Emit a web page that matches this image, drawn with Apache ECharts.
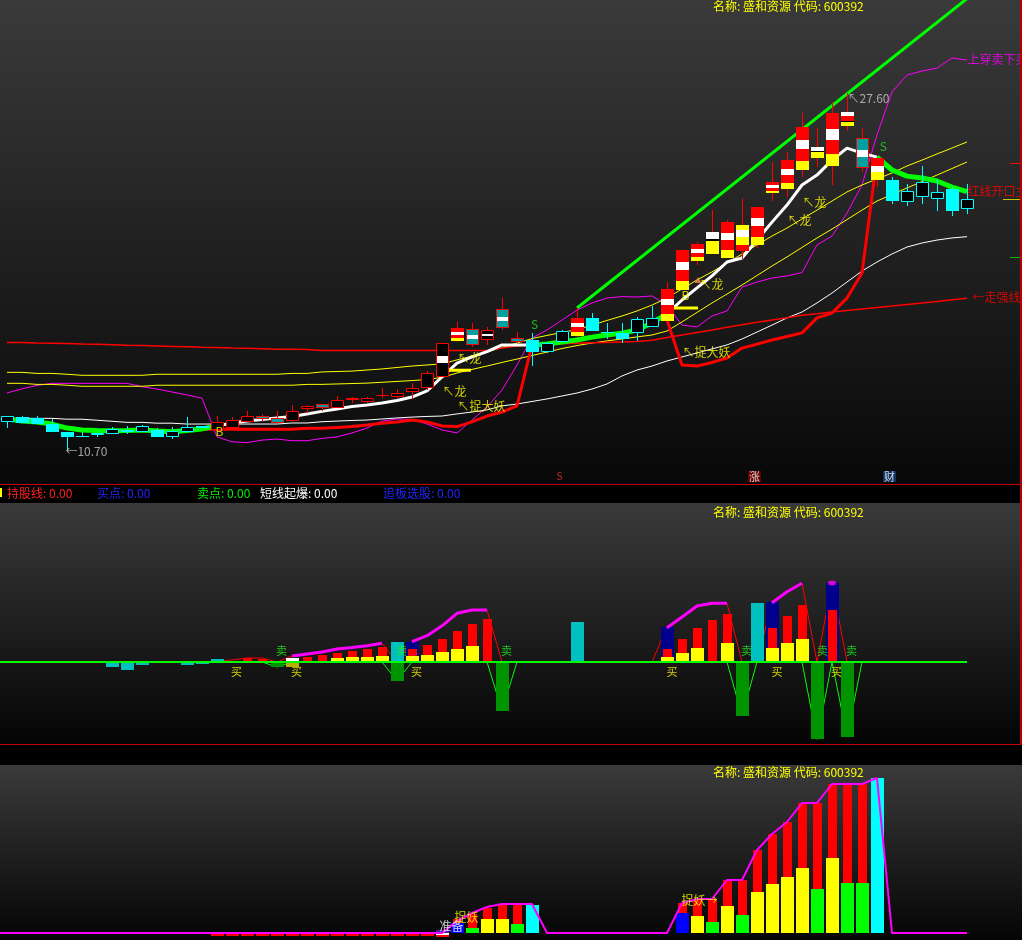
<!DOCTYPE html>
<html><head><meta charset="utf-8">
<script src="https://cdn.jsdelivr.net/npm/echarts@6/dist/echarts.min.js"></script>
<style>html,body{margin:0;padding:0;background:#000;}#c{width:1022px;height:940px;}</style>
</head><body><div id="c"></div>
<script>
// ---------------- DATA ----------------
const stockTitle = '名称: 盛和资源 代码: 600392';
const infoRow = [['持股线: 0.00','red'],['买点: 0.00','blue'],['卖点: 0.00','green'],['短线起爆: 0.00','white'],['追板选股: 0.00','blue']];

// candles (index = trading day 0..64)
const opens = [12.01,12.26,12.20,11.95,11.55,11.38,11.40,11.44,11.66,11.54,
 11.63,11.30,11.54,11.85,11.65,11.73,12.04,12.30,12.23,12.09,
 12.66,12.87,12.68,13.07,12.99,13.26,13.23,13.46,13.62,14.15,
 15.87,16.43,15.91,17.38,15.99,15.91,15.36,15.80,16.10,16.97,
 16.31,16.23,16.23,16.54,16.83,18.28,19.66,20.00,19.81,20.15,
 20.43,22.89,23.08,23.97,24.54,24.17,26.07,25.47,23.50,23.50,
 22.47,22.70,22.58,23.06,22.11];
const closes = [12.30,11.98,11.95,11.57,11.33,11.30,11.51,11.68,11.54,11.82,
 11.33,11.59,11.79,11.73,12.04,12.12,12.30,12.17,11.98,12.55,
 12.79,12.68,13.07,13.15,13.15,13.31,13.39,13.62,14.34,15.76,
 16.50,15.68,16.39,16.47,15.83,15.36,15.76,16.34,16.97,16.34,
 16.23,15.95,16.89,16.94,18.33,20.18,20.46,21.02,21.52,21.36,
 22.23,23.42,24.44,26.02,25.07,26.66,26.73,24.05,24.52,22.52,
 22.96,23.39,22.93,22.04,22.60];
const highs = [12.30,12.31,12.31,12.18,11.55,11.57,11.51,11.79,11.84,11.88,
 11.74,11.79,12.26,11.85,12.31,12.28,12.55,12.42,12.55,12.83,
 12.82,12.89,13.26,13.23,13.23,13.64,13.59,13.88,14.44,15.76,
 16.78,16.70,16.54,17.89,16.29,16.26,15.83,16.40,17.44,17.18,
 16.73,16.73,16.99,17.54,18.68,20.18,20.54,22.07,21.60,22.63,
 22.23,24.34,24.84,26.66,25.95,27.21,27.60,25.95,24.52,23.65,
 23.31,24.16,23.50,23.18,23.29];
const lows = [11.76,11.98,11.95,11.57,10.70,11.30,11.30,11.44,11.46,11.54,
 11.33,11.24,11.54,11.73,11.60,11.73,12.04,12.04,11.98,12.09,
 12.47,12.55,12.68,12.94,12.94,13.16,13.16,13.12,13.54,14.15,
 15.82,15.60,15.68,16.39,15.76,14.68,15.28,15.80,16.05,16.34,
 15.95,15.76,15.88,16.54,16.73,18.28,19.47,20.00,19.81,19.74,
 20.26,22.52,22.70,23.62,24.13,23.25,25.83,23.89,23.18,22.36,
 22.26,22.36,22.04,21.79,21.88];
const candleKind = ['cu','cd','cd','cd','cd','cd','cu','cu','cd','cu',
 'cd','cu','cu','cd','ru','ru','ru','rt','rt','ru',
 'ru','rt','ru','ru','ru','ru','ru','ru','ru','rw',
 'st','rtw','rw','rtw','rt','cd','cu','cu','st','cd',
 'cd','cd','cu','cu','st','st','st','wy','st','yw',
 'st','st','st','st','wy','st','wr','rtw','rwy','cd',
 'cu','cu','cu','cd','cu'];

// main panel lines
const lineStrong = [15.80,15.79,15.77,15.76,15.75,15.72,15.71,15.69,15.66,15.65,
 15.63,15.61,15.59,15.57,15.56,15.53,15.52,15.50,15.47,15.47,
 15.46,15.42,15.41,15.41,15.41,15.41,15.41,15.41,15.41,15.41,
 15.41,15.41,15.42,15.53,15.63,15.68,15.71,15.73,15.76,15.78,
 15.80,15.82,15.84,15.90,16.03,16.15,16.27,16.39,16.52,16.64,
 16.75,16.86,16.97,17.09,17.16,17.24,17.31,17.38,17.45,17.52,
 17.60,17.67,17.74,17.82,17.89];
const maFast = [14.38,14.38,14.33,14.33,14.29,14.24,14.24,14.24,14.24,14.24,
 14.29,14.29,14.29,14.29,14.29,14.29,14.29,14.29,14.29,14.33,
 14.33,14.40,14.42,14.44,14.49,14.54,14.61,14.68,14.73,14.78,
 14.97,15.15,15.34,15.56,15.77,15.98,16.13,16.27,16.41,16.62,
 16.84,17.05,17.29,17.57,17.90,18.33,18.76,19.14,19.56,19.99,
 20.42,20.84,21.22,21.65,22.07,22.50,22.93,23.26,23.54,23.83,
 24.16,24.44,24.73,25.01,25.30];
const maSlow = [13.86,13.86,13.81,13.81,13.77,13.72,13.72,13.72,13.72,13.72,
 13.77,13.77,13.77,13.77,13.77,13.77,13.77,13.77,13.77,13.77,
 13.81,13.81,13.83,13.85,13.87,13.91,13.95,13.99,14.04,14.14,
 14.35,14.52,14.68,14.85,15.01,15.18,15.34,15.51,15.65,15.77,
 15.87,15.96,16.06,16.15,16.34,16.77,17.22,17.67,18.09,18.52,
 18.97,19.42,19.85,20.30,20.75,21.17,21.62,22.07,22.50,22.81,
 23.12,23.42,23.73,24.04,24.35];
const trendThick = [12.17,12.07,12.03,11.93,11.74,11.65,11.62,11.61,11.62,11.65,
 11.60,11.57,11.62,11.70,11.84,11.98,12.07,12.15,12.22,12.29,
 12.41,12.53,12.64,12.76,12.83,12.93,13.05,13.21,13.50,14.16,
 14.82,15.11,15.36,15.68,15.68,15.68,15.72,15.82,15.91,16.05,
 16.15,16.24,16.39,16.72,17.15,17.81,18.38,18.95,19.61,19.80,
 20.65,21.50,22.31,23.26,23.73,24.44,25.01,24.77,24.58,23.97,
 23.68,23.59,23.45,23.16,22.94];
const trendSegments = [[0,14,'up0'],[14,35,'up1'],[35,44,'up0'],[44,58,'up1'],[58,64,'up0']];
const whiteThin = [12.20,12.20,12.20,12.20,12.16,12.16,12.11,12.06,12.01,12.01,
 11.97,11.97,11.93,11.93,11.93,11.93,11.93,11.93,11.93,11.98,
 11.98,12.04,12.07,12.10,12.12,12.17,12.22,12.26,12.29,12.31,
 12.41,12.50,12.60,12.79,12.88,13.00,13.12,13.26,13.40,13.59,
 13.83,14.21,14.49,14.68,14.92,15.11,15.30,15.49,15.68,15.96,
 16.29,16.62,16.96,17.24,17.67,18.14,18.66,19.18,19.61,19.99,
 20.32,20.51,20.65,20.75,20.81];
const redThick = [null,null,null,null,null,null,null,null,null,null,
 null,null,null,11.68,11.68,11.68,11.68,11.68,11.68,11.68,
 11.73,11.73,11.77,11.81,11.88,11.97,12.03,12.12,12.03,11.84,
 11.81,12.03,12.31,12.50,12.79,15.68,null,null,null,null,
 null,null,null,null,16.86,14.73,14.68,14.85,15.06,15.53,
 15.72,15.91,16.08,16.25,16.96,17.19,17.90,19.09,24.54,null,
 null,null,null,null,null];
const magentaBand = [13.40,13.60,13.76,13.86,13.86,13.86,13.86,13.86,13.86,13.70,
 13.59,13.45,13.31,13.16,11.32,11.09,11.05,11.17,11.22,11.14,
 11.14,11.25,11.32,11.51,11.74,12.07,12.17,12.15,11.93,11.65,
 11.51,12.12,12.74,13.54,14.73,16.01,16.39,16.86,17.33,17.67,
 17.90,17.97,17.95,18.00,17.57,16.62,16.53,17.05,17.29,18.42,
 18.66,18.85,18.95,19.11,20.42,20.84,21.93,23.26,25.63,27.67,
 28.47,28.66,28.80,29.28,29.18];
const diagLine = [[38,17.43],[64,32.09]];
const bSignalLines = [[[28.93,14.48],[30.93,14.48]],[[44.4,17.43],[46.07,17.43]]];
const dragonMark = [[46.07,18.76]];

// panel 2 (signal bars, [day, value])
const p2Cyan = [[7,-0.5],[8,-0.8],[9,-0.3],[12,-0.3],[13,-0.2],[14,0.3],[26,2.03],[38,4.03],[50,5.93]];
const p2Navy = [[15,0.15],[27,2.03],[44,3.53],[51,6.03],[55,7.9]];
const p2Red = [[16,0.4],[17,0.3],[20,0.5],[21,0.7],[22,0.95],[23,1.13],[24,1.33],[25,1.53],[27,1.3],[28,1.7],[29,2.3],[30,3.13],[31,3.8],[32,4.3],[44,1.27],[45,2.3],[46,3.43],[47,4.2],[48,4.8],[51,3.43],[52,4.63],[53,5.7],[55,5.2]];
const p2Yellow = [[22,0.45],[23,0.53],[24,0.53],[25,0.63],[27,0.6],[28,0.7],[29,1.03],[30,1.3],[31,1.6],[44,0.53],[45,0.93],[46,1.43],[48,1.93],[51,1.43],[52,1.93],[53,2.3]];
const p2White = [[19,0.4]];
const p2Olive = [[19,-0.5]];
const p2Green = [[18,-0.5],[26,-1.87],[33,-4.87],[49,-5.37],[54,-7.73],[56,-7.47]];
const p2Magenta = [[19,0.6],[20,0.8],[21,1.0],[22,1.3],[23,1.45],[24,1.62],[25,1.87],[26,null],[27,2.03],[28,2.63],[29,3.62],[30,4.87],[31,5.2],[32,5.2],[33,null],[44,3.43],[45,4.5],[46,5.6],[47,5.87],[48,5.87],[49,null],[51,5.93],[52,7.03],[53,7.87]];
const p2MagentaDot = [[55,7.9]];
const p2RedLine = [0,0,0,0,0,0,0,0,0,0,
 0,0,0,0,0.1,0.2,0.4,0.4,0,0.6,
 0.8,1.0,1.3,1.45,1.62,1.87,0,2.03,2.63,3.62,
 4.87,5.2,5.2,0,0,0,0,0,0,0,
 0,0,0,0,3.53,4.5,5.6,5.87,5.87,0,
 0,6.03,7.03,7.87,0,7.9,0,0,0,0,
 0,0,0,0,0];
const p2GreenLine = [0,0,0,0,0,0,0,0,0,0,
 0,0,0,0,0,0,0,0,-0.5,0,
 0,0,0,0,0,0,-1.87,0,0,0,
 0,0,0,-4.87,0,0,0,0,0,0,
 0,0,0,0,0,0,0,0,0,-5.37,
 0,0,0,0,-7.73,0,-7.47,0,0,0,
 0,0,0,0,0];

// panel 3
const p3RedNeg = [[14,-0.34],[15,-0.34],[16,-0.34],[17,-0.34],[18,-0.34],[19,-0.34],[20,-0.34],[21,-0.34],[22,-0.34],[23,-0.34],[24,-0.34],[25,-0.34],[26,-0.34],[27,-0.34],[28,-0.34],[29,-0.44]];
const p3WhiteNeg = [[29,-0.17]];
const p3Purple = [[29,0.3]];
const p3Blue = [[30,1.0],[45,2.0]];
const p3Red = [[30,1.4],[31,1.9],[32,2.55],[33,2.8],[34,2.8],[45,3.0],[46,3.37],[47,3.37],[48,5.3],[49,5.3],[50,8.3],[51,9.9],[52,11.1],[53,12.97],[54,12.97],[55,14.9],[56,14.9],[57,14.9]];
const p3Yellow = [[32,1.37],[33,1.4],[46,1.73],[48,2.73],[50,4.13],[51,4.93],[52,5.63],[53,6.53],[55,7.53]];
const p3Green = [[31,0.55],[34,0.93],[47,1.13],[49,1.83],[54,4.43],[56,5.03],[57,5.03]];
const p3Cyan = [[35,2.8],[58,15.53]];
const p3Magenta = [0,0,0,0,0,0,0,0,0,0,
 0,0,0,0,0,0,0,0,0,0,
 0,0,0,0,0,0,0,0,0,0,
 1.2,2.0,2.6,2.9,2.9,2.9,0,0,0,0,
 0,0,0,0,0,3.0,3.4,3.4,5.3,5.3,
 8.3,9.9,11.1,13.0,13.0,14.9,14.9,14.9,15.5,0,
 0,0,0,0,0];

// annotations: [panel, day, value, text, style, align]
const notes = [
 [0,3.93,10.61,'←10.70','gray','left'],
 [0,56.07,27.33,'↖27.60','gray','left'],
 [0,35.2,16.62,'S','green','center'],
 [0,58.45,25.08,'S','green','center'],
 [0,45.27,18.00,'B','yellow','center'],
 [0,14.2,11.55,'B','yellow','center'],
 [0,30.07,15.01,'↖龙','yellow','left'],
 [0,29.07,13.45,'↖龙','yellow','left'],
 [0,30.07,12.74,'↖捉大妖','yellow','left'],
 [0,46.2,18.52,'↖龙','yellow','left'],
 [0,52.07,21.55,'↖龙','yellow','left'],
 [0,53.07,22.41,'↖龙','yellow','left'],
 [0,45.07,15.32,'↖捉大妖','yellow','left'],
 [0,64.07,29.18,'上穿卖下买','magenta','left'],
 [0,64.07,22.93,'红线开口主升','red','left'],
 [0,64.4,17.90,'←走强线','red','left'],
 [0,36.87,9.42,'S','redSmall','center'],
 [0,49.87,9.42,'涨','rise','center'],
 [0,58.87,9.42,'财','cai','center'],
 [1,18.33,1.05,'卖','sell','center'],
 [1,26.33,1.05,'卖','sell','center'],
 [1,33.33,1.05,'卖','sell','center'],
 [1,49.33,1.05,'卖','sell','center'],
 [1,54.4,1.05,'卖','sell','center'],
 [1,56.33,1.05,'卖','sell','center'],
 [1,15.33,-1.05,'买','buy','center'],
 [1,19.33,-1.05,'买','buy','center'],
 [1,27.33,-1.05,'买','buy','center'],
 [1,44.37,-1.05,'买','buy','center'],
 [1,51.37,-1.05,'买','buy','center'],
 [1,55.33,-1.05,'买','buy','center'],
 [2,29.67,0.6,'准备','white','center'],
 [2,30.67,1.55,'捉妖','yellow','center'],
 [2,45.0,3.2,'捉妖→','yellow','left']
];

// ---------------- STYLE / BUILD ----------------
const FONT = '"Noto Sans CJK SC","Noto Sans",sans-serif';
const CY='#00ffff', RD='#ff0000', WH='#ffffff', YL='#ffff00', TEAL='#00a0a0';
const TEXT_COLORS = {red:'#ff2020', blue:'#2424ff', green:'#00ee00', white:'#ffffff'};
const TREND_COLORS = {up0:['#00ff00',5], up1:['#ffffff',3]};
const NOTE_STYLE = {
 gray:{color:'#c8c8c8',fontSize:12}, green:{color:'#22dd22',fontSize:12},
 yellow:{color:'#ffff00',fontSize:12}, magenta:{color:'#ff00ff',fontSize:12},
 red:{color:'#ff0000',fontSize:12}, redSmall:{color:'#ff3030',fontSize:10},
 rise:{color:'#ffffff',fontSize:11,bg:'#7a0000',pad:[0,1]},
 cai:{color:'#ffffff',fontSize:11,bg:'#123c78',pad:[0,1]},
 sell:{color:'#22ee22',fontSize:11}, buy:{color:'#ffff00',fontSize:11},
 white:{color:'#ffffff',fontSize:12}
};
const KIND_STYLE = {
 cu:{wick:CY, stroke:CY, fill:'#000000'},
 cd:{wick:CY, fill:CY},
 ru:{wick:RD, stroke:RD, fill:'#000000'},
 rt:{wick:RD, stroke:RD, fill:TEAL},
 rtw:{wick:RD, stroke:RD, fill:TEAL, bands:[[0.4,0.62,WH]]},
 rw:{wick:RD, stroke:RD, fill:'#000000', bands:[[0.38,0.6,WH]]},
 st:{wick:RD, bands:[[0,0.3,RD],[0.3,0.5,WH],[0.5,0.78,RD],[0.78,1,YL]]},
 wy:{wick:RD, bands:[[0,0.32,WH],[0.32,0.42,'#000000'],[0.42,1,YL]]},
 yw:{wick:RD, bands:[[0,0.2,YL],[0.2,0.45,WH],[0.45,0.78,YL],[0.78,1,RD]]},
 wr:{wick:RD, bands:[[0,0.25,WH],[0.25,0.32,'#000000'],[0.32,0.65,RD],[0.65,0.72,'#000000'],[0.72,1,YL]]},
 rwy:{wick:RD, bands:[[0,0.35,RD],[0.35,0.65,WH],[0.65,1,YL]]}
};

const xMin = -7/15, xMax = xMin + 1022/15;
const toPts = (arr) => arr.map((v,j)=>[j, v==null?'-':v]);
const pairPts = (arr) => arr.map(p=>[p[0], p[1]==null?'-':p[1]]);

function renderCandle(params, api) {
  const i = api.value(0), o = api.value(1), c = api.value(2), l = api.value(3), h = api.value(4);
  const k = KIND_STYLE[candleKind[params.dataIndex]];
  const pt = api.coord([i, Math.max(o,c)]), pb = api.coord([i, Math.min(o,c)]);
  const ph = api.coord([i, h]), pl = api.coord([i, l]);
  const w = Math.round(api.size([1,0])[0]*0.87);
  const cx = Math.round(pt[0]);
  const x0 = cx - Math.floor(w/2);
  const y0 = Math.round(pt[1]);
  let y1 = Math.round(pb[1]); if (y1 - y0 < 1) y1 = y0 + 1;
  const H = y1 - y0;
  const ch = [];
  const wx = cx + 0.5;
  ch.push({type:'line', shape:{x1:wx,y1:Math.round(ph[1]),x2:wx,y2:y0}, style:{stroke:k.wick,lineWidth:1}});
  ch.push({type:'line', shape:{x1:wx,y1:y1,x2:wx,y2:Math.round(pl[1])}, style:{stroke:k.wick,lineWidth:1}});
  if (k.fill) ch.push({type:'rect', shape:{x:x0,y:y0,width:w,height:H}, style:{fill:k.fill}});
  (k.bands||[]).forEach(b=>{
    const a = y0 + Math.round(b[0]*H), e = y0 + Math.round(b[1]*H);
    if (e > a) ch.push({type:'rect', shape:{x:x0,y:a,width:w,height:e-a}, style:{fill:b[2]}});
  });
  if (k.stroke) ch.push({type:'rect', shape:{x:x0+0.5,y:y0+0.5,width:w-1,height:Math.max(H-1,0)}, style:{fill:'none',stroke:k.stroke,lineWidth:1}});
  return {type:'group', children:ch};
}
function barRenderer(color, frac) {
  return function(params, api) {
    const v = api.value(1); if (v == null || isNaN(v) || v === 0) return;
    const i = api.value(0);
    const p0 = api.coord([i,0]), p1 = api.coord([i,v]);
    const w = Math.round(api.size([1,0])[0]*frac);
    const cx = Math.round(p0[0]);
    const x0 = cx - Math.floor(w/2);
    const ya = Math.round(Math.min(p0[1],p1[1])), yb = Math.round(Math.max(p0[1],p1[1]));
    return {type:'rect', shape:{x:x0,y:ya,width:w,height:Math.max(1,yb-ya)}, style:{fill:color}};
  };
}

const series = [];
function addLine(gi, data, color, width, z) {
  series.push({type:'line', xAxisIndex:gi, yAxisIndex:gi, data, symbol:'none', showSymbol:false,
    lineStyle:{color, width}, itemStyle:{color}, z:z||2, silent:true, connectNulls:false, clip:true, animation:false});
}
function addBars(gi, data, color, frac, z) {
  series.push({type:'custom', xAxisIndex:gi, yAxisIndex:gi, data:pairPts(data), renderItem:barRenderer(color, frac),
    encode:{x:0,y:1}, z:z||3, silent:true, animation:false});
}

// panel 1
addLine(0, toPts(magentaBand), '#ff00ff', 1, 2);
addLine(0, toPts(maSlow), '#ffff00', 1, 2);
addLine(0, toPts(maFast), '#ffff00', 1, 2);
addLine(0, toPts(whiteThin), '#ffffff', 1, 2);
addLine(0, toPts(lineStrong), '#ff0000', 1.5, 2);
addLine(0, toPts(redThick), '#ff0000', 3, 3);
trendSegments.forEach(s=>{
  const [a,b,key] = s;
  addLine(0, trendThick.slice(a,b+1).map((v,j)=>[a+j,v]), TREND_COLORS[key][0], TREND_COLORS[key][1], 3);
});
addLine(0, diagLine, '#00ff00', 3, 3);
bSignalLines.forEach(seg=>addLine(0, seg, '#ffff00', 3, 3));
series.push({type:'custom', xAxisIndex:0, yAxisIndex:0, renderItem:renderCandle,
  data: opens.map((o,i)=>[i, o, closes[i], lows[i], highs[i]]), encode:{x:0,y:[1,2,3,4]}, z:4, silent:true, animation:false});
series.push({type:'scatter', xAxisIndex:0, yAxisIndex:0, data:dragonMark, symbol:'triangle', symbolSize:[7,6],
  itemStyle:{color:'#ff8c50'}, z:5, silent:true, animation:false});

// panel 2
addLine(1, toPts(p2RedLine), '#ff0000', 1, 2);
addLine(1, toPts(p2GreenLine), '#00ff00', 1, 2);
addBars(1, p2Navy, '#00008c', 0.87);
addBars(1, p2Cyan, '#00bfbf', 0.87);
addBars(1, p2Red, '#ff0000', 0.6);
addBars(1, p2Yellow, '#ffff00', 0.87);
addBars(1, p2White, '#ffffff', 0.87);
addBars(1, p2Olive, '#b8b000', 0.87);
addBars(1, p2Green, '#009400', 0.87);
addLine(1, [[xMin,0],[64,0]], '#00ff00', 2, 4);
addLine(1, pairPts(p2Magenta), '#ff00ff', 3, 5);
series.push({type:'scatter', xAxisIndex:1, yAxisIndex:1, data:p2MagentaDot, symbol:'circle', symbolSize:[8,5],
  itemStyle:{color:'#ff00ff'}, z:5, silent:true, animation:false});

// panel 3
addBars(2, p3RedNeg, '#ff0000', 0.87);
addBars(2, p3WhiteNeg, '#ffffff', 0.87);
addBars(2, p3Purple, '#4a22a8', 0.87);
addBars(2, p3Red, '#ff0000', 0.6);
addBars(2, p3Blue, '#0000ff', 0.87);
addBars(2, p3Yellow, '#ffff00', 0.87);
addBars(2, p3Green, '#00ff00', 0.87);
addBars(2, p3Cyan, '#00ffff', 0.87);
addLine(2, [[xMin,0]].concat(toPts(p3Magenta)), '#ff00ff', 2, 4);

// notes
notes.forEach(n=>{
  const [gi,x,y,text,sk,align] = n;
  const st = NOTE_STYLE[sk];
  series.push({type:'scatter', xAxisIndex:gi, yAxisIndex:gi, data:[[x,y]], symbolSize:1,
    itemStyle:{color:'rgba(0,0,0,0)'}, z:10, silent:true, animation:false,
    label:{show:true, position:[0,0], align, verticalAlign:'middle', formatter:text, color:st.color,
      fontSize:st.fontSize, fontFamily:FONT, backgroundColor:st.bg||'transparent', padding:st.pad||0, textBorderWidth:0}});
});

function grad(top, bottom){ return new echarts.graphic.LinearGradient(0,0,0,1,[{offset:0,color:top},{offset:1,color:bottom}]); }
const graphic = [
  {type:'rect', z:-10, silent:true, shape:{x:0,y:0,width:1022,height:485}, style:{fill:grad('#3a3a3a','#080808')}},
  {type:'rect', z:-10, silent:true, shape:{x:0,y:503,width:1022,height:242}, style:{fill:grad('#3a3a3a','#040404')}},
  {type:'rect', z:-10, silent:true, shape:{x:0,y:765,width:1022,height:175}, style:{fill:grad('#3a3a3a','#050505')}},
  {type:'rect', z:20, silent:true, shape:{x:0,y:484,width:1022,height:1}, style:{fill:'#c80000'}},
  {type:'rect', z:20, silent:true, shape:{x:0,y:744,width:1022,height:1}, style:{fill:'#c80000'}},
  {type:'rect', z:20, silent:true, shape:{x:1020,y:0,width:2,height:745}, style:{fill:'#b40000'}},
  {type:'rect', z:20, silent:true, shape:{x:0,y:488,width:2,height:9}, style:{fill:'#ffff00'}},
  {type:'rect', z:20, silent:true, shape:{x:1010,y:163,width:10,height:1}, style:{fill:'#ff0000'}},
  {type:'rect', z:20, silent:true, shape:{x:1003,y:199,width:17,height:1}, style:{fill:'#c8c800'}},
  {type:'rect', z:20, silent:true, shape:{x:1010,y:257,width:10,height:1}, style:{fill:'#00c000'}}
];
[6,512,772].forEach(y=>graphic.push({type:'text', z:30, silent:true,
  style:{text:stockTitle, x:713, y:y, fill:'#ffff00', font:'12px '+FONT, verticalAlign:'middle', align:'left'}}));
const infoX = [7,97,197,260,383];
infoRow.forEach((it,k)=>graphic.push({type:'text', z:30, silent:true,
  style:{text:it[0], x:infoX[k], y:493, fill:TEXT_COLORS[it[1]], font:'12px '+FONT, verticalAlign:'middle', align:'left'}}));

const chart = echarts.init(document.getElementById('c'), null, {renderer:'canvas'});
chart.setOption({
  backgroundColor:'#000000',
  animation:false,
  grid:[
    {left:0, top:0, width:1022, height:485, outerBoundsMode:'none'},
    {left:0, top:503, width:1022, height:242, outerBoundsMode:'none'},
    {left:0, top:765, width:1022, height:175, outerBoundsMode:'none'}
  ],
  xAxis:[0,1,2].map(g=>({type:'value', gridIndex:g, min:xMin, max:xMax, show:false})),
  yAxis:[
    {type:'value', gridIndex:0, min:32.027-485/21.1, max:32.027, show:false},
    {type:'value', gridIndex:1, min:-8.3, max:15.9, show:false},
    {type:'value', gridIndex:2, min:-0.7, max:16.8, show:false}
  ],
  graphic:graphic,
  series:series
});
</script></body></html>
